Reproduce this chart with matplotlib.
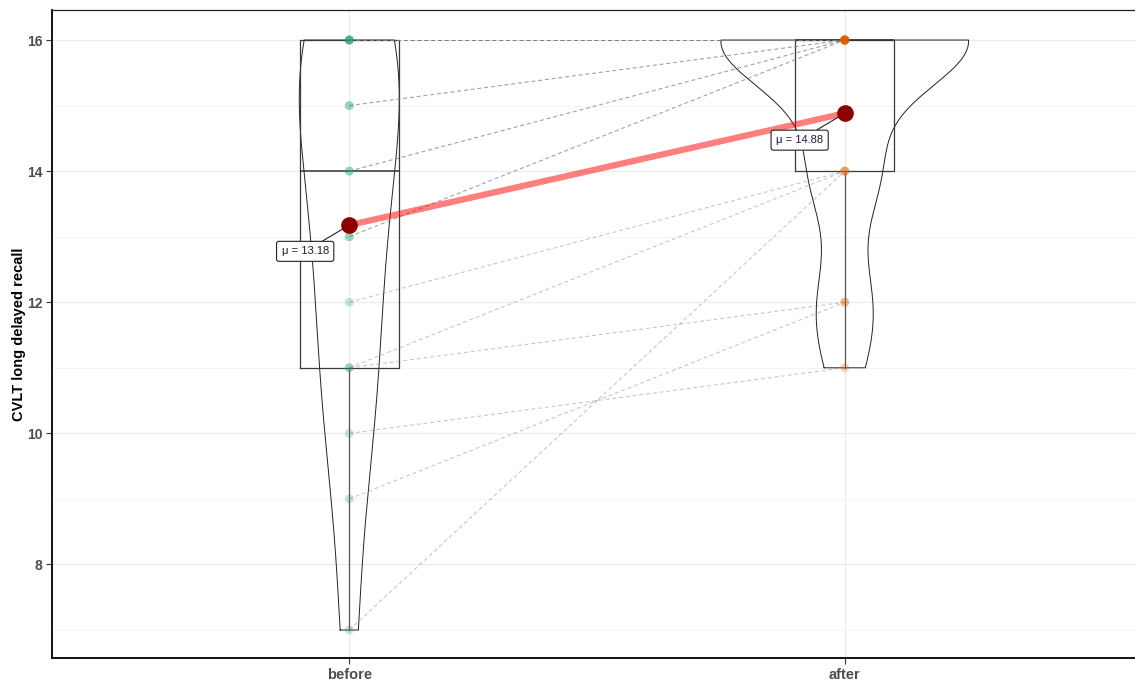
import numpy as np
import matplotlib
matplotlib.use("Agg")
import matplotlib.pyplot as plt

plt.rcParams["font.family"] = ["Liberation Sans", "DejaVu Sans"]

# paired scores, one entry per subject (n = 17)
before = np.array([16, 16, 16, 16, 16, 15, 15, 14, 14, 13, 13, 12, 11, 11, 10, 9, 7])
after = np.array([16, 16, 16, 16, 16, 16, 16, 16, 16, 16, 16, 14, 14, 12, 11, 12, 14])
conditions = ["before", "after"]
colors = ["#1B9E77", "#D95F02"]
y_label = "CVLT long delayed recall"


def kde(vals, grid):
    n = len(vals)
    sd = np.std(vals, ddof=1)
    iqr = np.subtract(*np.percentile(vals, [75, 25]))
    bw = 0.9 * min(sd, iqr / 1.34) * n ** -0.2
    z = (grid[:, None] - vals[None, :]) / bw
    return np.exp(-0.5 * z ** 2).sum(1) / (n * bw * np.sqrt(2 * np.pi))


fig = plt.figure(figsize=(11.35, 6.84), dpi=100)
ax = fig.add_axes([52 / 1135, 26 / 684, 1090 / 1135, 648 / 684])

groups = [before, after]
pos = [1, 2]

# violins (area scaled, trimmed)
dens = []
for vals in groups:
    g = np.linspace(vals.min(), vals.max(), 512)
    dens.append((g, kde(vals, g)))
dmax = max(d.max() for _, d in dens)
for p, (g, d) in zip(pos, dens):
    w = d / dmax * 0.25
    xs = np.concatenate([p - w, (p + w)[::-1], [p - w[0]]])
    ys = np.concatenate([g, g[::-1], [g[0]]])
    ax.plot(xs, ys, color="#222222", lw=0.7, zorder=2)

# boxplots
ax.boxplot(groups, positions=pos, widths=0.2, showcaps=False, showfliers=False,
           whis=1.5, manage_ticks=False,
           boxprops=dict(color="#3a3a3a", lw=0.9),
           medianprops=dict(color="#333333", lw=1.1),
           whiskerprops=dict(color="#555555", lw=0.9), zorder=3)

# paired dashed lines
for b, a in zip(before, after):
    ax.plot([1, 2], [b, a], color="grey", lw=0.7, ls=(0, (4, 3)), alpha=0.5, zorder=4)

# raw points
for p, vals, c in zip(pos, groups, colors):
    ax.scatter(np.full(len(vals), p), vals, s=42, color=c, alpha=0.25,
               edgecolors="none", zorder=5)

# centrality path + means
means = [before.mean(), after.mean()]
ax.plot(pos, means, color="red", alpha=0.5, lw=4.5, zorder=6, solid_capstyle="butt")
ax.plot(pos, means, "o", color="#8B0000", ms=11, zorder=7)

for p, m, dx, dy in zip(pos, means, [-0.089, -0.091], [-0.40, -0.41]):
    ax.annotate(f"\u03bc = {m:.2f}", xy=(p, m), xytext=(p + dx, m + dy),
                ha="center", va="center", fontsize=8, color="#1a1a3a",
                bbox=dict(boxstyle="round,pad=0.45,rounding_size=0.2", fc="white",
                          ec="#222222", lw=0.8),
                arrowprops=dict(arrowstyle="-", color="#222222", lw=0.8,
                                shrinkA=0, shrinkB=5),
                zorder=8)

# axes styling
ax.set_xlim(0.4, 2.6)
ax.set_ylim(6.573, 16.458)
ax.set_xticks(pos)
ax.set_xticklabels(conditions, fontweight="bold", color="#4D4D4D", fontsize=10.5)
ax.set_yticks([8, 10, 12, 14, 16])
ax.set_yticks([7, 9, 11, 13, 15], minor=True)
ax.set_yticklabels(["8", "10", "12", "14", "16"], fontweight="bold", color="#4D4D4D", fontsize=10)
ax.set_ylabel(y_label, fontweight="bold", fontsize=10.5)
ax.yaxis.set_label_coords(-0.0235, 0.5)
ax.tick_params(axis="both", which="major", length=4, color="#333333", width=0.8, pad=3)
ax.tick_params(axis="y", which="minor", length=0)
ax.grid(True, which="major", color="#EBEBEB", lw=0.8)
ax.grid(True, which="minor", axis="y", color="#F2F2F2", lw=0.6)
ax.set_axisbelow(True)
for side in ["left", "bottom"]:
    ax.spines[side].set_linewidth(1.3)
    ax.spines[side].set_color("black")
for side in ["top", "right"]:
    ax.spines[side].set_linewidth(0.9)
    ax.spines[side].set_color("#222222")

fig.savefig("out.png", dpi=100)
